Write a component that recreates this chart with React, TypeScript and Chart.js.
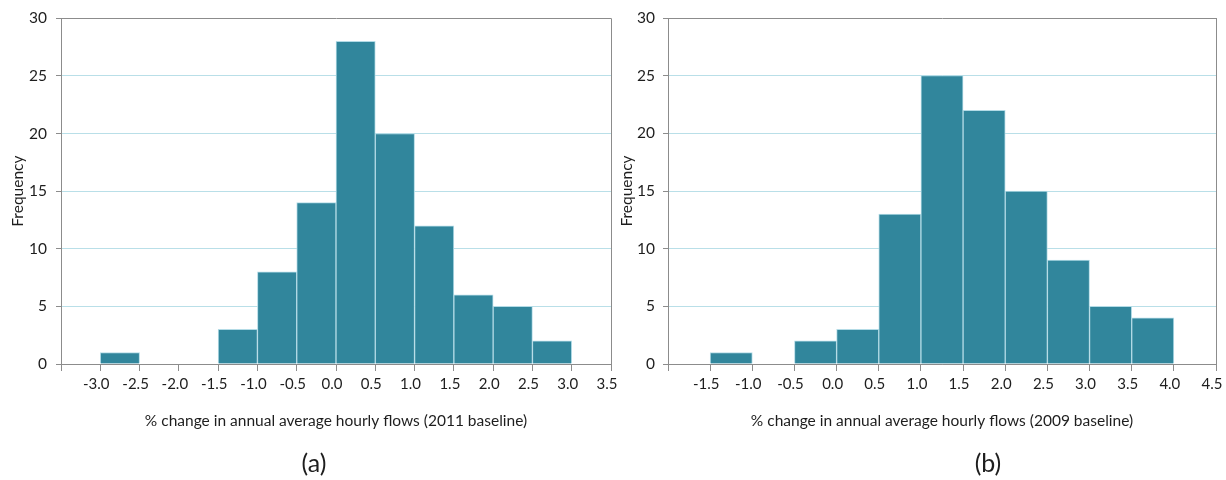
import React, { useEffect, useRef } from 'react';
import { Chart, registerables } from 'chart.js';

Chart.register(...registerables);

// ---- Data ----
const binWidth = 0.5;
const binStartsA = [-3.0, -2.5, -2.0, -1.5, -1.0, -0.5, 0.0, 0.5, 1.0, 1.5, 2.0, 2.5];
const countsA = [1, 0, 0, 3, 8, 14, 28, 20, 12, 6, 5, 2];
const binStartsB = [-1.5, -1.0, -0.5, 0.0, 0.5, 1.0, 1.5, 2.0, 2.5, 3.0, 3.5];
const countsB = [1, 0, 2, 3, 13, 25, 22, 15, 9, 5, 4];
const xRangeA = [-3.5, 3.5];
const xRangeB = [-2.0, 4.5];
const yMax = 30;
const yStep = 5;
const xTitleA = '% change in annual average hourly flows (2011 baseline)';
const xTitleB = '% change in annual average hourly flows (2009 baseline)';
const yTitle = 'Frequency';
const panelLabels = ['(a)', '(b)'];

// ---- Styles ----
const FONT = 'Lato, "Open Sans", sans-serif';
const TEXT = '#1e1e1e';
const BAR = '#31869c';
const EDGE = '#b3dbe6';
const AXIS = '#8c8c8c';
const GRID = '#b9dfe8';

type HistProps = {
  starts: number[];
  counts: number[];
  xMin: number;
  xMax: number;
  xTitle: string;
  width: number;
  yAxisWidth: number;
  yTitlePad: number;
  yTickPad: number;
  rightPad: number;
};

function Histogram(p: HistProps) {
  const ref = useRef<HTMLCanvasElement>(null);
  useEffect(() => {
    const data = p.starts.map((s, i) => ({ x: s + binWidth / 2, y: p.counts[i] }));
    const isEmpty = (c: any) => !c.raw || c.raw.y === 0;
    const chart = new Chart(ref.current as HTMLCanvasElement, {
      type: 'bar',
      data: {
        datasets: [
          {
            data: data as any,
            backgroundColor: ((c: any) => (isEmpty(c) ? 'rgba(0,0,0,0)' : BAR)) as any,
            borderColor: ((c: any) => (isEmpty(c) ? 'rgba(0,0,0,0)' : EDGE)) as any,
            borderWidth: ((c: any) => (isEmpty(c) ? 0 : 1)) as any,
            borderSkipped: 'start',
            barPercentage: 1,
            categoryPercentage: 1,
          },
        ],
      },
      options: {
        responsive: false,
        animation: false,
        layout: { padding: { top: 18, right: p.rightPad, left: 0, bottom: 41 } },
        plugins: { legend: { display: false }, tooltip: { enabled: false }, title: { display: false } },
        scales: {
          x: {
            type: 'linear',
            offset: false,
            min: p.xMin,
            max: p.xMax,
            afterFit: (s: any) => {
              s.height = 75;
              s.paddingLeft = 0;
              s.paddingRight = 0;
            },
            ticks: {
              stepSize: binWidth,
              autoSkip: false,
              maxRotation: 0,
              includeBounds: true,
              callback: (v: any) => (Math.abs(Number(v) - p.xMin) < 1e-9 ? '' : Number(v).toFixed(1)),
              font: { family: FONT, size: 15 },
              color: TEXT,
              padding: 4,
              labelOffset: -4,
            },
            grid: {
              offset: false,
              drawOnChartArea: true,
              color: (c: any) => (c.tick && Math.abs(c.tick.value - p.xMax) < 1e-9 ? AXIS : 'rgba(0,0,0,0)'),
              tickColor: AXIS,
              tickLength: 7,
              lineWidth: 1,
            },
            border: { display: true, color: AXIS },
            title: {
              display: true,
              text: p.xTitle,
              font: { family: FONT, size: 15.5 },
              color: TEXT,
              padding: { top: 4, bottom: 9 },
            },
          },
          y: {
            min: 0,
            max: yMax,
            afterFit: (s: any) => {
              s.width = p.yAxisWidth;
            },
            ticks: {
              stepSize: yStep,
              font: { family: FONT, size: 15.5 },
              color: TEXT,
              padding: p.yTickPad,
            },
            grid: {
              color: (c: any) => (c.tick && (c.tick.value === 0 || c.tick.value === yMax) ? AXIS : GRID),
              tickColor: AXIS,
              tickLength: 5,
              lineWidth: 1,
            },
            border: { display: true, color: AXIS },
            title: {
              display: true,
              text: yTitle,
              font: { family: FONT, size: 15.5 },
              color: TEXT,
              padding: { top: p.yTitlePad, bottom: 2 },
            },
          },
        },
      },
    } as any);
    return () => chart.destroy();
  }, []);
  return <canvas ref={ref} width={p.width} height={480} style={{ display: 'block' }} />;
}

export default function App() {
  return (
    <div style={{ position: 'absolute', left: 0, top: 0, width: 1226, height: 480, background: '#fff' }}>
      <div style={{ position: 'absolute', left: 0, top: 0 }}>
        <Histogram
          starts={binStartsA}
          counts={countsA}
          xMin={xRangeA[0]}
          xMax={xRangeA[1]}
          xTitle={xTitleA}
          width={625}
          yAxisWidth={61}
          yTitlePad={8.7}
          yTickPad={9}
          rightPad={14}
        />
      </div>
      <div style={{ position: 'absolute', left: 613, top: 0 }}>
        <Histogram
          starts={binStartsB}
          counts={countsB}
          xMin={xRangeB[0]}
          xMax={xRangeB[1]}
          xTitle={xTitleB}
          width={613}
          yAxisWidth={55}
          yTitlePad={4.7}
          yTickPad={8}
          rightPad={10}
        />
      </div>
      {panelLabels.map((t, i) => (
        <div
          key={t}
          style={{
            position: 'absolute',
            left: i === 0 ? 264 : 938,
            width: 100,
            top: 446,
            textAlign: 'center',
            fontFamily: FONT,
            fontSize: 25,
            lineHeight: '32px',
            color: TEXT,
          }}
        >
          {t}
        </div>
      ))}
    </div>
  );
}
